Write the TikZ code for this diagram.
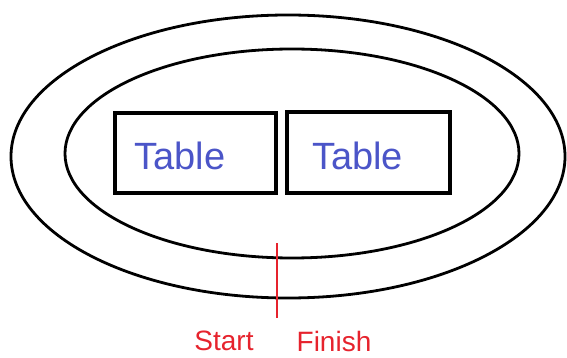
\documentclass[tikz,border=0pt]{standalone}
\usepackage{fontspec}
\setmainfont{Liberation Sans}
\usetikzlibrary{shapes.geometric}
\definecolor{penblue}{RGB}{75,85,200}
\definecolor{penred}{RGB}{230,35,45}
\begin{document}
\begin{tikzpicture}[x=1pt,y=-1pt,
  ring/.style={draw=black, line width=2.8pt, ellipse, inner sep=0pt},
  tablebox/.style={draw=black, line width=3.4pt, inner sep=0pt},
  tabletext/.style={text=penblue, font=\fontsize{38}{40}\selectfont, inner sep=0pt},
  redtext/.style={text=penred, font=\fontsize{28}{31}\selectfont, inner sep=0pt}]
\useasboundingbox (0,0) rectangle (567,358);
\node[ring, minimum width=554pt, minimum height=283pt] (outer) at (288,156.5) {};
\node[ring, minimum width=454pt, minimum height=209pt] (inner) at (292,153.5) {};
\node[tablebox, minimum width=161pt, minimum height=80pt] (lbox) at (195.5,153) {};
\node[tablebox, minimum width=163pt, minimum height=81pt] (rbox) at (368.5,152.5) {};
\node[tabletext] (ltext) at (180,156) {Table};
\node[tabletext] (rtext) at (357.5,156) {Table};
\coordinate (rtop) at (277,243);
\coordinate (rbot) at (277,318);
\draw[penred, line width=2.8pt] (rtop) -- (rbot);
\node[redtext] (start) at (224,341) {Start};
\node[redtext] (finish) at (334,341) {Finish};
\end{tikzpicture}
\end{document}
